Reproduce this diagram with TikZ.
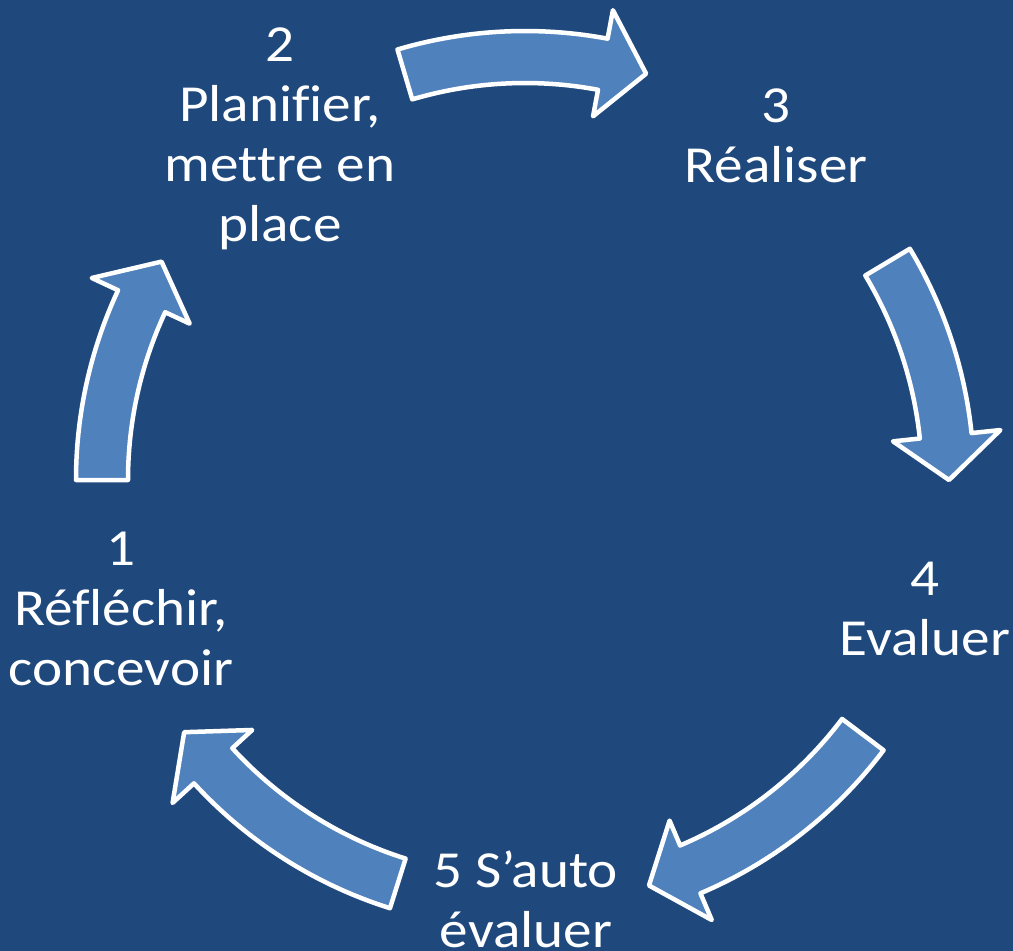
\documentclass[tikz,border=0pt]{standalone}
\usepackage{fontspec}
\setmainfont{Carlito}[Ligatures=CommonOff, FakeStretch=1.1]
\definecolor{bgblue}{RGB}{31,73,125}
\definecolor{arrowfill}{RGB}{79,129,189}
\tikzset{
  lbl/.style={text=white, align=center, font=\fontsize{52}{60}\selectfont, inner sep=0pt},
  cyc/.style={fill=arrowfill, draw=white, line width=4.5pt, line join=round}
}
\newcommand{\cycarrow}[2]{%
  \pgfmathsetmacro\hb{#2+6}%
  \path[cyc] (#1:449) arc[start angle=#1, end angle=\hb, radius=449]
    -- (\hb:478) -- (#2:424) -- (\hb:370) -- (\hb:397)
    arc[start angle=\hb, end angle=#1, radius=397] -- cycle;
}
\begin{document}
\begin{tikzpicture}[x=1pt,y=1pt]
  \fill[bgblue] (0,0) rectangle (1013,-951);
  \useasboundingbox (0,0) rectangle (1013,-951);
  \begin{scope}[shift={(525,-480)}]
    \cycarrow{106.5}{73.4}
    \cycarrow{31}{0}
    \cycarrow{-37}{-73}
    \cycarrow{-107.5}{-143.5}
    \cycarrow{180}{149}
  \end{scope}
  \node[lbl] (l2) at (280,-139) {2\\Planifier,\\mettre en\\place};
  \node[lbl] (l3) at (776,-136) {3\\Réaliser};
  \node[lbl] (l4) at (925,-609) {4\\Evaluer};
  \node[lbl] (l5) at (526,-899) {5 S’auto\\évaluer};
  \node[lbl] (l1) at (121,-609) {1\\Réfléchir,\\concevoir};
\end{tikzpicture}
\end{document}
